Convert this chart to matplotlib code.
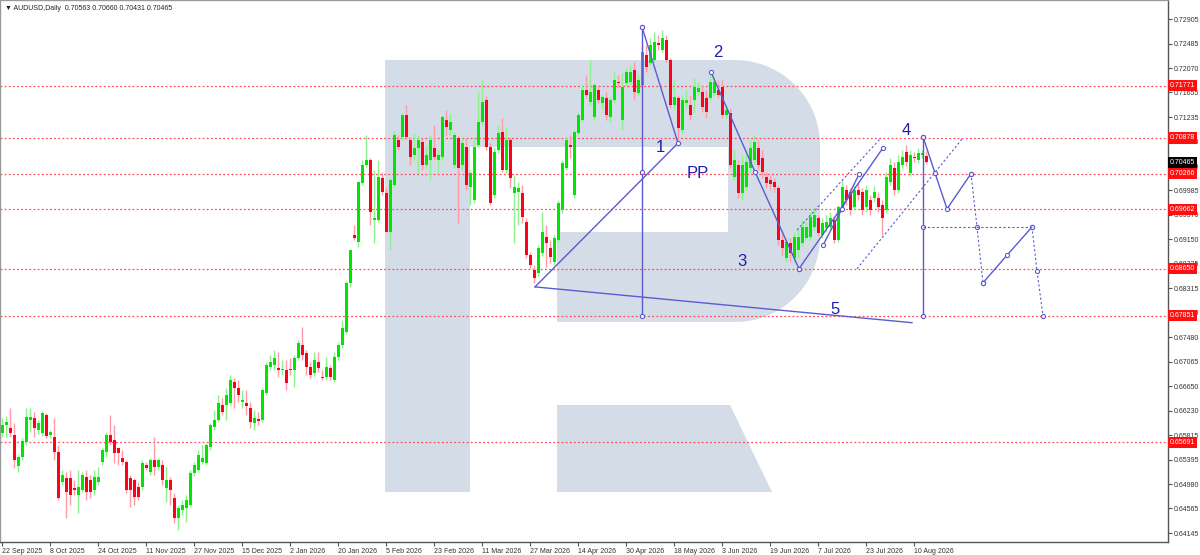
import matplotlib
matplotlib.use("Agg")
import matplotlib.pyplot as plt
from matplotlib.patches import Polygon
import numpy as np

plt.rcParams['font.family'] = ['Liberation Sans', 'DejaVu Sans']

# ---------------- data ----------------
date_labels = ["22 Sep 2025", "8 Oct 2025", "24 Oct 2025", "11 Nov 2025", "27 Nov 2025",
               "15 Dec 2025", "2 Jan 2026", "20 Jan 2026", "5 Feb 2026", "23 Feb 2026",
               "11 Mar 2026", "27 Mar 2026", "14 Apr 2026", "30 Apr 2026", "18 May 2026",
               "3 Jun 2026", "19 Jun 2026", "7 Jul 2026", "23 Jul 2026", "10 Aug 2026"]

opens = [
    0.6585, 0.6599, 0.6594, 0.6582, 0.6529, 0.6544, 0.6570, 0.6607, 0.6611, 0.6590, 0.6585, 0.6616,
    0.6582, 0.6578, 0.6553, 0.6502, 0.6508, 0.6508, 0.6491, 0.6479, 0.6488, 0.6510, 0.6505, 0.6488,
    0.6502, 0.6536, 0.6553, 0.6582, 0.6573, 0.6560, 0.6542, 0.6536, 0.6508, 0.6505, 0.6493, 0.6493,
    0.6531, 0.6519, 0.6539, 0.6527, 0.6531, 0.6491, 0.6505, 0.6474, 0.6440, 0.6454, 0.6457, 0.6462,
    0.6517, 0.6522, 0.6536, 0.6534, 0.6561, 0.6595, 0.6607, 0.6633, 0.6633, 0.6636, 0.6672, 0.6662,
    0.6638, 0.6636, 0.6628, 0.6602, 0.6609, 0.6607, 0.6653, 0.6698, 0.6701, 0.6696, 0.6692, 0.6692,
    0.6694, 0.6692, 0.6713, 0.6735, 0.6721, 0.6698, 0.6687, 0.6706, 0.6680, 0.6680, 0.6696, 0.6675,
    0.6715, 0.6735, 0.6757, 0.6841, 0.6922, 0.6911, 0.7011, 0.7042, 0.7050, 0.6948, 0.6948, 0.7020,
    0.6994, 0.6928, 0.7008, 0.7084, 0.7089, 0.7127, 0.7084, 0.7059, 0.7071, 0.7081, 0.7042, 0.7050,
    0.7071, 0.7050, 0.7055, 0.7118, 0.7101, 0.7042, 0.7088, 0.7042, 0.7072, 0.7004, 0.6982, 0.7076,
    0.7115, 0.7153, 0.7072, 0.6991, 0.7067, 0.7098, 0.7033, 0.7084, 0.6994, 0.6996, 0.6994, 0.6945,
    0.6888, 0.6863, 0.6858, 0.6892, 0.6919, 0.6900, 0.6876, 0.6914, 0.6965, 0.7037, 0.7076, 0.6991,
    0.7096, 0.7118, 0.7170, 0.7149, 0.7123, 0.7170, 0.7147, 0.7156, 0.7124, 0.7153, 0.7183, 0.7118,
    0.7181, 0.7183, 0.7204, 0.7164, 0.7178, 0.7229, 0.7216, 0.7221, 0.7250, 0.7238, 0.7255, 0.7221,
    0.7144, 0.7156, 0.7101, 0.7147, 0.7144, 0.7153, 0.7166, 0.7166, 0.7156, 0.7156, 0.7164, 0.7170,
    0.7175, 0.7127, 0.7130, 0.7021, 0.7042, 0.6994, 0.7004, 0.7037, 0.7050, 0.7071, 0.7054, 0.7021,
    0.7016, 0.7013, 0.7003, 0.6914, 0.6883, 0.6909, 0.6883, 0.6897, 0.6909, 0.6917, 0.6919, 0.6936,
    0.6951, 0.6922, 0.6934, 0.6936, 0.6948, 0.6914, 0.6965, 0.6999, 0.6996, 0.6970, 0.6999, 0.6996,
    0.6970, 0.6982, 0.6986, 0.6986, 0.6974, 0.6965, 0.7013, 0.7037, 0.6999, 0.7042, 0.7064, 0.7028,
    0.7055, 0.7050, 0.7059, 0.70563]

highs = [
    0.6611, 0.6614, 0.6628, 0.6602, 0.6548, 0.6577, 0.6628, 0.6628, 0.6621, 0.6607, 0.6623, 0.6619,
    0.6590, 0.6611, 0.6565, 0.6522, 0.6519, 0.6522, 0.6505, 0.6522, 0.6519, 0.6522, 0.6514, 0.6522,
    0.6527, 0.6560, 0.6587, 0.6616, 0.6599, 0.6561, 0.6556, 0.6539, 0.6514, 0.6508, 0.6502, 0.6539,
    0.6536, 0.6542, 0.6578, 0.6542, 0.6539, 0.6527, 0.6510, 0.6483, 0.6462, 0.6471, 0.6479, 0.6522,
    0.6536, 0.6556, 0.6565, 0.6568, 0.6602, 0.6624, 0.6650, 0.6645, 0.6662, 0.6684, 0.6679, 0.6675,
    0.6658, 0.6658, 0.6638, 0.6624, 0.6621, 0.6662, 0.6706, 0.6718, 0.6727, 0.6723, 0.6709, 0.6709,
    0.6713, 0.6718, 0.6744, 0.6766, 0.6727, 0.6706, 0.6723, 0.6723, 0.6692, 0.6715, 0.6701, 0.6723,
    0.6738, 0.6778, 0.6844, 0.6897, 0.6939, 0.7013, 0.7050, 0.7093, 0.7054, 0.7033, 0.7050, 0.7030,
    0.7004, 0.7020, 0.7100, 0.7093, 0.7130, 0.7144, 0.7089, 0.7096, 0.7093, 0.7088, 0.7076, 0.7093,
    0.7110, 0.7067, 0.7127, 0.7135, 0.7130, 0.7098, 0.7093, 0.7088, 0.7088, 0.7033, 0.7088, 0.7166,
    0.7187, 0.7159, 0.7079, 0.7072, 0.7110, 0.7122, 0.7106, 0.7089, 0.7025, 0.7013, 0.7008, 0.6951,
    0.6893, 0.6871, 0.6905, 0.6962, 0.6940, 0.6914, 0.6922, 0.6982, 0.7050, 0.7088, 0.7093, 0.7101,
    0.7132, 0.7178, 0.7195, 0.7221, 0.7181, 0.7178, 0.7161, 0.7166, 0.7158, 0.7200, 0.7195, 0.7198,
    0.7207, 0.7212, 0.7217, 0.7195, 0.7246, 0.7246, 0.7258, 0.7268, 0.7263, 0.7272, 0.7263, 0.7224,
    0.7187, 0.7161, 0.7161, 0.7170, 0.7161, 0.7190, 0.7183, 0.7178, 0.7170, 0.7200, 0.7190, 0.7187,
    0.7187, 0.7144, 0.7139, 0.7067, 0.7050, 0.7059, 0.7067, 0.7084, 0.7093, 0.7084, 0.7067, 0.7030,
    0.7025, 0.7020, 0.7008, 0.6928, 0.6917, 0.6917, 0.6928, 0.6934, 0.6948, 0.6945, 0.6962, 0.6968,
    0.6957, 0.6951, 0.6957, 0.6962, 0.6955, 0.6974, 0.7016, 0.7008, 0.7003, 0.7008, 0.7013, 0.7003,
    0.7008, 0.6991, 0.7006, 0.6996, 0.6982, 0.7030, 0.7054, 0.7047, 0.7059, 0.7067, 0.7076, 0.7067,
    0.7064, 0.7071, 0.7067, 0.70660]

lows = [
    0.6578, 0.6578, 0.6578, 0.6525, 0.6519, 0.6539, 0.6565, 0.6587, 0.6578, 0.6583, 0.6580, 0.6577,
    0.6577, 0.6539, 0.6471, 0.6496, 0.6440, 0.6462, 0.6479, 0.6449, 0.6485, 0.6471, 0.6474, 0.6479,
    0.6496, 0.6531, 0.6544, 0.6565, 0.6534, 0.6531, 0.6531, 0.6483, 0.6459, 0.6462, 0.6471, 0.6488,
    0.6522, 0.6514, 0.6514, 0.6522, 0.6496, 0.6467, 0.6462, 0.6432, 0.6420, 0.6445, 0.6433, 0.6459,
    0.6512, 0.6519, 0.6532, 0.6531, 0.6556, 0.6590, 0.6604, 0.6616, 0.6607, 0.6633, 0.6628, 0.6638,
    0.6628, 0.6616, 0.6594, 0.6590, 0.6599, 0.6604, 0.6650, 0.6692, 0.6692, 0.6680, 0.6684, 0.6658,
    0.6684, 0.6663, 0.6709, 0.6709, 0.6684, 0.6679, 0.6682, 0.6689, 0.6675, 0.6675, 0.6675, 0.6672,
    0.6709, 0.6730, 0.6754, 0.6834, 0.6914, 0.6902, 0.7008, 0.7038, 0.6940, 0.6909, 0.6945, 0.6991,
    0.6928, 0.6897, 0.7004, 0.7067, 0.7084, 0.7084, 0.7042, 0.7050, 0.7028, 0.7033, 0.7037, 0.7016,
    0.7050, 0.7030, 0.7050, 0.7093, 0.7093, 0.7037, 0.6943, 0.7033, 0.6999, 0.6974, 0.6977, 0.7072,
    0.7110, 0.7067, 0.6974, 0.6986, 0.7062, 0.7030, 0.7028, 0.7003, 0.6909, 0.6940, 0.6943, 0.6883,
    0.6866, 0.6841, 0.6853, 0.6887, 0.6868, 0.6875, 0.6871, 0.6911, 0.6960, 0.7033, 0.7054, 0.6986,
    0.7093, 0.7115, 0.7156, 0.7144, 0.7118, 0.7147, 0.7135, 0.7118, 0.7115, 0.7147, 0.7173, 0.7101,
    0.7176, 0.7178, 0.7153, 0.7161, 0.7173, 0.7200, 0.7212, 0.7217, 0.7238, 0.7234, 0.7217, 0.7139,
    0.7135, 0.7084, 0.7096, 0.7139, 0.7118, 0.7130, 0.7161, 0.7132, 0.7122, 0.7153, 0.7159, 0.7156,
    0.7122, 0.7122, 0.7037, 0.7016, 0.6986, 0.6982, 0.6999, 0.7030, 0.7042, 0.7033, 0.7020, 0.7003,
    0.6999, 0.6996, 0.6905, 0.6888, 0.6876, 0.6876, 0.6876, 0.6883, 0.6904, 0.6914, 0.6914, 0.6931,
    0.6921, 0.6917, 0.6928, 0.6931, 0.6909, 0.6911, 0.6962, 0.6974, 0.6957, 0.6965, 0.6982, 0.6957,
    0.6962, 0.6957, 0.6979, 0.6962, 0.6922, 0.6960, 0.7008, 0.6991, 0.6994, 0.7037, 0.7040, 0.7023,
    0.7047, 0.7045, 0.7054, 0.70431]

closes = [
    0.6599, 0.6604, 0.6585, 0.6539, 0.6544, 0.6571, 0.6612, 0.6612, 0.6594, 0.6602, 0.6619, 0.6580,
    0.6587, 0.6553, 0.6474, 0.6514, 0.6485, 0.6479, 0.6488, 0.6493, 0.6514, 0.6485, 0.6485, 0.6510,
    0.6510, 0.6556, 0.6582, 0.6570, 0.6551, 0.6551, 0.6536, 0.6488, 0.6488, 0.6476, 0.6476, 0.6534,
    0.6525, 0.6539, 0.6527, 0.6539, 0.6505, 0.6505, 0.6488, 0.6440, 0.6457, 0.6462, 0.6471, 0.6517,
    0.6531, 0.6548, 0.6542, 0.6565, 0.6599, 0.6607, 0.6636, 0.6621, 0.6650, 0.6675, 0.6662, 0.6650,
    0.6641, 0.6631, 0.6604, 0.6611, 0.6606, 0.6658, 0.6701, 0.6706, 0.6713, 0.6692, 0.6694, 0.6670,
    0.6692, 0.6713, 0.6738, 0.6718, 0.6698, 0.6684, 0.6709, 0.6696, 0.6679, 0.6698, 0.6680, 0.6715,
    0.6735, 0.6764, 0.6841, 0.6897, 0.6917, 0.7013, 0.7042, 0.7050, 0.6962, 0.6951, 0.7021, 0.6996,
    0.6928, 0.7016, 0.7093, 0.7072, 0.7127, 0.7089, 0.7055, 0.7071, 0.7084, 0.7042, 0.7059, 0.7084,
    0.7055, 0.7059, 0.7124, 0.7106, 0.7115, 0.7093, 0.7037, 0.7079, 0.7008, 0.7028, 0.7072, 0.7115,
    0.7149, 0.7072, 0.6977, 0.7064, 0.7096, 0.7033, 0.7084, 0.7020, 0.7004, 0.7003, 0.6953, 0.6888,
    0.6871, 0.6849, 0.6900, 0.6928, 0.6909, 0.6885, 0.6917, 0.6977, 0.7045, 0.7084, 0.7072, 0.7098,
    0.7127, 0.7170, 0.7161, 0.7166, 0.7178, 0.7153, 0.7158, 0.7127, 0.7153, 0.7187, 0.7181, 0.7175,
    0.7200, 0.7200, 0.7166, 0.7187, 0.7234, 0.7209, 0.7246, 0.7251, 0.7246, 0.7258, 0.7221, 0.7144,
    0.7158, 0.7105, 0.7153, 0.7153, 0.7127, 0.7175, 0.7173, 0.7141, 0.7132, 0.7183, 0.7183, 0.7161,
    0.7127, 0.7135, 0.7042, 0.7050, 0.6994, 0.7042, 0.7047, 0.7071, 0.7081, 0.7042, 0.7030, 0.7011,
    0.7009, 0.7004, 0.6914, 0.6900, 0.6911, 0.6892, 0.6919, 0.6919, 0.6936, 0.6936, 0.6953, 0.6957,
    0.6926, 0.6943, 0.6945, 0.6951, 0.6914, 0.6970, 0.7004, 0.6982, 0.6965, 0.6999, 0.6991, 0.6965,
    0.6999, 0.6965, 0.6996, 0.6970, 0.6951, 0.7021, 0.7042, 0.6999, 0.7047, 0.7055, 0.7047, 0.7059,
    0.7054, 0.7062, 0.7062, 0.70465]

level_prices = [0.71771, 0.70878, 0.70266, 0.69662, 0.68650, 0.67851, 0.65691]
current_price = 0.70465
ytick_values = [0.72905, 0.72485, 0.72070, 0.71655, 0.71235, 0.70820, 0.70400, 0.69985,
                0.69570, 0.69150, 0.68735, 0.68315, 0.67900, 0.67480, 0.67065, 0.66650,
                0.66230, 0.65815, 0.65395, 0.64980, 0.64565, 0.64145]

# analysis drawing (bar index, price)
wave_a_x = [133.25, 169.0, 160.0]          # low -> point 1 -> top
wave_a_y = [0.6834, 0.7079, 0.7277]
vert_a_x = 160.0
vert_a_y = [0.7277, 0.7030, 0.6785]
line5_x = [133.25, 227.5]
line5_y = [0.6834, 0.6773]
wave_23_x = [177.25, 188.25, 199.25]
wave_23_y = [0.7200, 0.7030, 0.6865]
rise_x = [199.25, 220.25]
rise_y = [0.6865, 0.7071]
rise_short_x = [205.25, 210.0, 214.25]
rise_short_y = [0.6905, 0.6967, 0.7026]
chan_up_x = [198.75, 219.75]
chan_up_y = [0.6931, 0.7088]
chan_lo_x = [213.75, 240.25]
chan_lo_y = [0.6865, 0.7088]
vert_b_x = 230.25
vert_b_y = [0.7090, 0.6936, 0.6785]
proj_1_x = [230.25, 233.25, 236.25, 242.25]
proj_1_y = [0.7090, 0.7028, 0.6967, 0.7027]
proj_2_x = [242.25, 243.75, 245.25]
proj_2_y = [0.7027, 0.6936, 0.6841]
proj_3_x = [245.25, 251.25, 257.5]
proj_3_y = [0.6841, 0.6888, 0.6936]
proj_4_x = [257.5, 258.75, 260.25]
proj_4_y = [0.6936, 0.6861, 0.6785]
proj_h_x = [230.25, 257.5]
proj_h_y = [0.6936, 0.6936]
wave_labels = ["1", "2", "PP", "3", "4", "5"]
wave_label_x = [164.5, 179.0, 174.0, 185.0, 226.0, 208.25]
wave_label_y = [0.7071, 0.7234, 0.7028, 0.6877, 0.7101, 0.6795]

# ---------------- figure ----------------
W, H = 1200, 555
fig = plt.figure(figsize=(W / 100, H / 100), dpi=100)
AX_W, AX_H = 1168, 542
ax = fig.add_axes([0, (H - AX_H) / H, AX_W / W, AX_H / H])
ax.set_xlim(-0.5, 291.5)
ax.set_ylim(0.63993, 0.73229)

# watermark "R" logo (axes-fraction coordinates)
def px(pts):
    return [(x / AX_W, 1 - y / AX_H) for x, y in pts]

r = 85
arc1 = [(735 + r * np.cos(t), 145 - r * np.sin(t)) for t in np.linspace(np.pi / 2, 0, 20)]
arc2 = [(735 + r * np.cos(t), 237 - r * np.sin(t)) for t in np.linspace(0, -np.pi / 2, 20)]
bowl = [(385, 60)] + arc1 + arc2 + [(557, 322), (557, 232), (728, 232), (728, 147),
                                     (470, 147), (470, 492), (385, 492)]
leg = [(557, 405), (730, 405), (772, 492), (557, 492)]
wm_color = "#d4dce8"
for shape in (bowl, leg):
    ax.add_patch(Polygon(px(shape), closed=True, transform=ax.transAxes,
                         facecolor=wm_color, edgecolor="none", zorder=0))

# horizontal levels
for lv in level_prices:
    ax.axhline(lv, color="#ff4d5e", lw=0.9, ls=(0, (1.5, 1.8)), zorder=1)

# candles
o = np.array(opens); h = np.array(highs); l = np.array(lows); c = np.array(closes)
xs = np.arange(len(o))
up = c >= o
wick_cols = np.where(up, "#8ef08e", "#ff9aa6")
body_cols = np.where(up, "#00e600", "#ff0018")
ax.vlines(xs, l, h, colors=wick_cols, lw=1.0, zorder=2)
bottom = np.minimum(o, c)
height = np.maximum(np.abs(c - o), 0.00012)
ax.bar(xs, height, bottom=bottom, width=0.75, color=body_cols, linewidth=0, zorder=3)

# analysis lines
lc = "#5b5bd0"
mk = dict(marker="o", markersize=3, markerfacecolor="white", markeredgecolor=lc, markeredgewidth=0.8)
ax.plot(wave_a_x, wave_a_y, color=lc, lw=1.0, zorder=4)
ax.plot([vert_a_x] * 3, vert_a_y, color=lc, lw=1.0, zorder=4, **mk)
ax.plot(wave_a_x[1:], wave_a_y[1:], ls="none", zorder=5, **mk)
ax.plot(line5_x, line5_y, color=lc, lw=1.0, zorder=4)
ax.plot(wave_23_x, wave_23_y, color=lc, lw=1.0, zorder=4, **mk)
ax.plot(rise_x, rise_y, color=lc, lw=1.0, zorder=4, **mk)
ax.plot(rise_short_x, rise_short_y, color=lc, lw=1.0, zorder=4, **mk)
ax.plot(chan_up_x, chan_up_y, color=lc, lw=0.8, ls=(0, (2, 2)), zorder=4)
ax.plot(chan_lo_x, chan_lo_y, color=lc, lw=0.8, ls=(0, (2, 2)), zorder=4)
ax.plot([vert_b_x] * 3, vert_b_y, color=lc, lw=1.0, zorder=4, **mk)
ax.plot(proj_1_x, proj_1_y, color=lc, lw=1.0, zorder=4, **mk)
ax.plot(proj_2_x, proj_2_y, color=lc, lw=0.8, ls=(0, (2, 2)), zorder=4, **mk)
ax.plot(proj_3_x, proj_3_y, color=lc, lw=1.0, zorder=4, **mk)
ax.plot(proj_4_x, proj_4_y, color=lc, lw=0.8, ls=(0, (2, 2)), zorder=4, **mk)
ax.plot(proj_h_x, proj_h_y, color=lc, lw=0.8, ls=(0, (2, 2)), zorder=4)

for t, lx, ly in zip(wave_labels, wave_label_x, wave_label_y):
    ax.text(lx, ly, t, fontsize=12, color="#1f1fb0", ha="center", va="center", zorder=6)

# axes styling
for s in ("left", "top"):
    ax.spines[s].set_color("#9a9a9a")
    ax.spines[s].set_linewidth(1.0)
for s in ("right", "bottom"):
    ax.spines[s].set_color("#555555")
    ax.spines[s].set_linewidth(1.0)

ax.yaxis.tick_right()
ax.set_yticks(ytick_values)
ax.set_yticklabels([f"{v:.5f}" for v in ytick_values])
ax.tick_params(axis="y", direction="out", length=3, width=0.8, color="#555555",
               labelsize=5, labelcolor="#333333", pad=1.5)
tick_pos = [12 * k for k in range(len(date_labels))]
ax.set_xticks(tick_pos)
ax.set_xticklabels(date_labels)
ax.tick_params(axis="x", direction="out", length=3, width=0.8, color="#555555",
               labelsize=5, labelcolor="#333333", pad=1.5)
for lab in ax.get_xticklabels():
    lab.set_horizontalalignment("left")

# price labels on the right axis
for lv in level_prices:
    ax.annotate(f"{lv:.5f}", xy=(1.0, lv), xycoords=("axes fraction", "data"),
                xytext=(1.2, 0), textcoords="offset points", ha="left", va="center",
                fontsize=5, color="white", zorder=10, annotation_clip=False,
                bbox=dict(boxstyle="square,pad=0.3", fc="#ff1010", ec="none"))
ax.annotate(f"{current_price:.5f}", xy=(1.0, current_price), xycoords=("axes fraction", "data"),
            xytext=(1.2, 0), textcoords="offset points", ha="left", va="center",
            fontsize=5, color="white", zorder=10, annotation_clip=False,
            bbox=dict(boxstyle="square,pad=0.3", fc="#000000", ec="none"))

fig.text(5 / W, 1 - 8 / H, "\u25bc AUDUSD,Daily  0.70563 0.70660 0.70431 0.70465",
         fontsize=5, color="#222222", va="center", ha="left")

fig.savefig("out.png", dpi=100, facecolor="white")
